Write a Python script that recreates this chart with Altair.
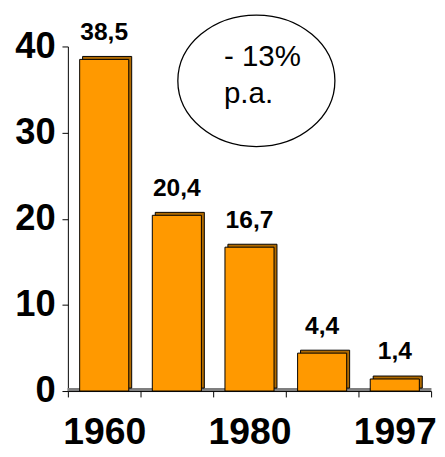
import altair as alt
import pandas as pd

# ---- data ----
years = ["1960", "1970", "1980", "1990", "1997"]
values = [38.5, 20.4, 16.7, 4.4, 1.4]
value_labels = ["38,5", "20,4", "16,7", "4,4", "1,4"]
shown_years = ["1960", "1980", "1997"]
y_ticks = [0, 10, 20, 30, 40]
note_text = "- 13%\np.a."

df = pd.DataFrame({"year": years, "value": values, "label": value_labels})
note_df = pd.DataFrame({"note": [note_text]})

shown_list = ",".join("'" + s + "'" for s in shown_years)

x_enc = alt.X(
    "year:N",
    sort=years,
    scale=alt.Scale(paddingInner=0, paddingOuter=0),
    axis=alt.Axis(
        title=None,
        labelAngle=0,
        labelExpr=f"indexof([{shown_list}], datum.value) >= 0 ? datum.value : ''",
        labelOverlap=False,
        labelFont="Liberation Sans, Arial, sans-serif",
        labelFontWeight="bold",
        labelFontSize=38,
        labelColor="black",
        labelPadding=17,
        tickBand="extent",
        tickSize=6,
        tickColor="black",
        domainColor="black",
        grid=False,
    ),
)
y_enc = alt.Y(
    "value:Q",
    scale=alt.Scale(domain=[0, 40], nice=False),
    axis=alt.Axis(
        title=None,
        values=y_ticks,
        labelFont="Liberation Sans, Arial, sans-serif",
        labelFontWeight="bold",
        labelFontSize=37,
        labelColor="black",
        labelPadding=7,
        tickSize=6,
        tickColor="black",
        domainColor="black",
        grid=False,
    ),
)

base = alt.Chart(df)

floor = base.mark_rule(color="#7f7f7f", strokeWidth=3, yOffset=-1.5).encode(
    x=alt.value(0), x2=alt.value(370), y=alt.Y(datum=0, scale=alt.Scale(domain=[0, 40], nice=False))
)

back = base.mark_bar(
    size=50, color="#b06a00", stroke="black", strokeWidth=1, xOffset=3, yOffset=-3
).encode(x=x_enc, y=y_enc)

front = base.mark_bar(
    size=50, color="#ff9900", stroke="black", strokeWidth=1
).encode(x=x_enc, y=y_enc)

labels = base.mark_text(
    font="Liberation Sans, Arial, sans-serif",
    fontWeight="bold",
    fontSize=25,
    baseline="alphabetic",
    dy=-20,
    color="black",
).encode(x=x_enc, y=y_enc, text="label:N")

k = 0.5523
r = 0.8375
ellipse_path = (
    f"M -1 0 C -1 {-k*r:.4f} {-k} {-r} 0 {-r} "
    f"C {k} {-r} 1 {-k*r:.4f} 1 0 "
    f"C 1 {k*r:.4f} {k} {r} 0 {r} "
    f"C {-k} {r} -1 {k*r:.4f} -1 0 Z"
)

ellipse = alt.Chart(note_df).mark_point(
    shape=ellipse_path, size=160 * 160, filled=False, stroke="black", strokeWidth=1.3, opacity=1
).encode(x=alt.value(192), y=alt.value(35))

note = alt.Chart(note_df).mark_text(
    font="Liberation Sans, Arial, sans-serif",
    fontSize=30,
    align="left",
    baseline="alphabetic",
    lineBreak="\n",
    lineHeight=38,
    color="black",
).encode(x=alt.value(159), y=alt.value(20), text="note:N")

chart = (
    alt.layer(floor, back, front, labels, ellipse, note)
    .properties(
        width=370,
        height=351,
        autosize=alt.AutoSizeParams(type="none"),
        padding={"left": 61, "top": 35, "right": 6, "bottom": 63},
        background="white",
    )
    .configure_view(stroke=None)
)

chart.save("out.html", embed_options={"renderer": "svg", "actions": False})
